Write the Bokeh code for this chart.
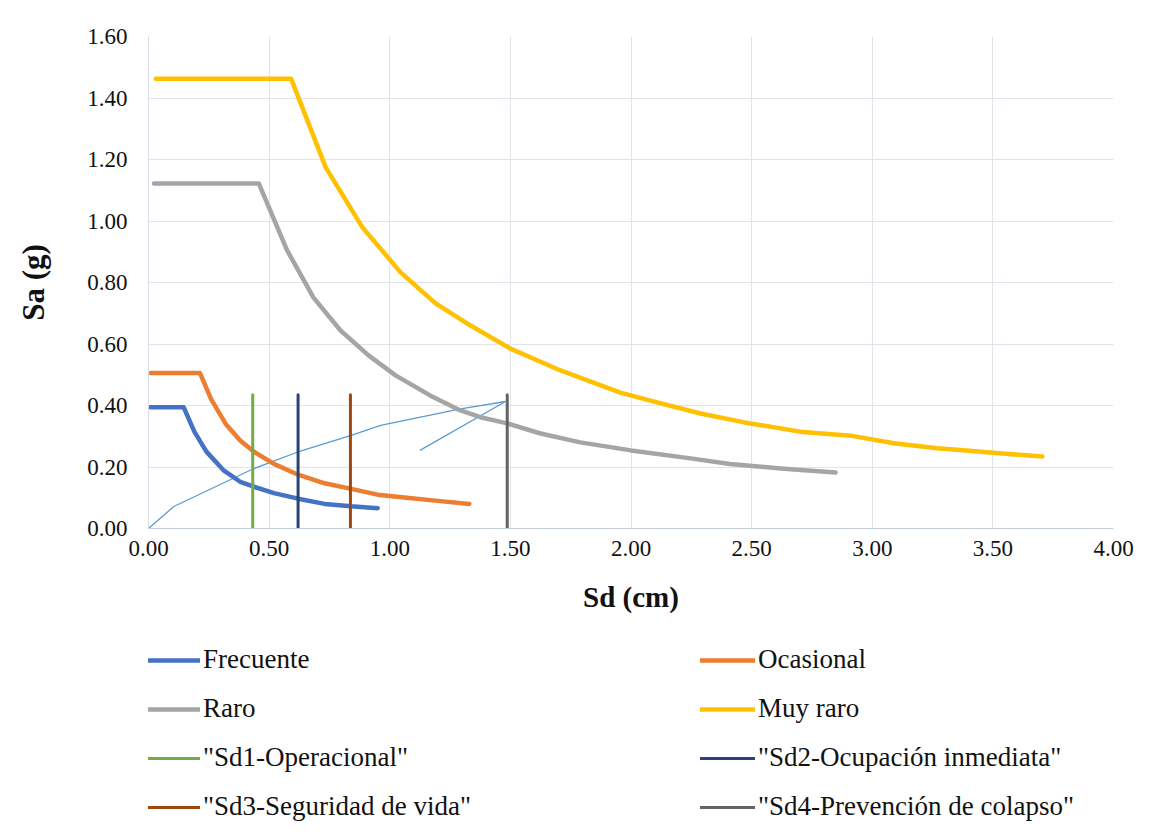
from bokeh.plotting import figure
from bokeh.models import FixedTicker, NumeralTickFormatter, Legend, LegendItem, Range1d
from bokeh.layouts import column
from bokeh.embed import file_html
from bokeh.resources import INLINE

# ---- data ----
frec_sd = [0.008, 0.146, 0.19, 0.24, 0.31, 0.38, 0.44, 0.52, 0.62, 0.73, 0.84, 0.95]
frec_sa = [0.394, 0.394, 0.315, 0.25, 0.19, 0.152, 0.135, 0.115, 0.097, 0.080, 0.072, 0.066]

ocas_sd = [0.010, 0.213, 0.26, 0.32, 0.38, 0.44, 0.52, 0.62, 0.73, 0.84, 0.95, 1.07, 1.21, 1.33]
ocas_sa = [0.506, 0.506, 0.42, 0.34, 0.286, 0.248, 0.21, 0.175, 0.147, 0.129, 0.110, 0.100, 0.089, 0.080]

raro_sd = [0.023, 0.457, 0.575, 0.684, 0.796, 0.912, 1.024, 1.169, 1.293, 1.376, 1.487,
           1.625, 1.79, 2.0, 2.247, 2.41, 2.62, 2.848]
raro_sa = [1.122, 1.122, 0.904, 0.751, 0.644, 0.563, 0.498, 0.432, 0.384, 0.362, 0.342,
           0.309, 0.280, 0.254, 0.228, 0.210, 0.195, 0.182]

muy_sd = [0.03, 0.591, 0.734, 0.886, 1.045, 1.19, 1.335, 1.5, 1.708, 1.956, 2.08, 2.288,
          2.47, 2.70, 2.91, 3.09, 3.27, 3.39, 3.50, 3.705]
muy_sa = [1.463, 1.463, 1.175, 0.98, 0.833, 0.732, 0.66, 0.585, 0.514, 0.442, 0.416, 0.374,
          0.345, 0.315, 0.302, 0.277, 0.261, 0.254, 0.246, 0.234]

cap_sd = [0.0, 0.105, 0.437, 0.616, 0.837, 0.962, 1.293, 1.48, 1.125]
cap_sa = [0.0, 0.0715, 0.195, 0.248, 0.302, 0.335, 0.389, 0.413, 0.254]

level_names = ['"Sd1-Operacional"', '"Sd2-Ocupación inmediata"', '"Sd3-Seguridad de vida"',
               '"Sd4-Prevención de colapso"']
level_sd = [0.432, 0.620, 0.837, 1.487]
level_top = 0.435

x_ticks = [0.0, 0.5, 1.0, 1.5, 2.0, 2.5, 3.0, 3.5, 4.0]
y_ticks = [0.0, 0.2, 0.4, 0.6, 0.8, 1.0, 1.2, 1.4, 1.6]

FONT = "Liberation Serif"
W = 1153
MAIN_H = 630
LEG_H = 199
NAN = float("nan")

p = figure(width=W, height=MAIN_H, output_backend="svg", toolbar_location=None,
           x_range=Range1d(0, 4), y_range=Range1d(0, 1.6),
           min_border_left=148, min_border_right=W - 1113, min_border_top=36,
           min_border_bottom=MAIN_H - 528)
p.outline_line_color = None
p.background_fill_color = "white"
p.border_fill_color = "white"

grid_col = "#E1E4EA"
p.xgrid.grid_line_color = grid_col
p.ygrid.grid_line_color = grid_col
p.xgrid.ticker = FixedTicker(ticks=x_ticks)
p.ygrid.ticker = FixedTicker(ticks=y_ticks)

for ax in (p.xaxis[0], p.yaxis[0]):
    ax.major_tick_line_color = None
    ax.minor_tick_line_color = None
    ax.major_tick_out = 0
    ax.major_tick_in = 0
    ax.minor_tick_out = 0
    ax.formatter = NumeralTickFormatter(format="0.00")
    ax.major_label_text_font = FONT
    ax.major_label_text_font_size = "23px"
    ax.major_label_text_color = "#111111"
    ax.axis_label_text_font = FONT
    ax.axis_label_text_font_style = "bold"
    ax.axis_label_text_font_size = "29px"
    ax.axis_label_text_color = "#111111"

p.xaxis[0].ticker = FixedTicker(ticks=x_ticks)
p.yaxis[0].ticker = FixedTicker(ticks=y_ticks)
p.xaxis[0].axis_line_color = "#C5CEDC"
p.yaxis[0].axis_line_color = "#D6DCE6"
p.xaxis[0].axis_label = "Sd (cm)"
p.yaxis[0].axis_label = "Sa (g)"
p.yaxis[0].axis_label_text_font_size = "31px"
p.xaxis[0].major_label_standoff = 12
p.yaxis[0].major_label_standoff = 21
p.xaxis[0].axis_label_standoff = 22
p.yaxis[0].axis_label_standoff = 33

# capacity curve (thin)
p.line(cap_sd, cap_sa, line_color="#5B9BD5", line_width=1.3)

spectra = [
    ("Frecuente", frec_sd, frec_sa, "#4472C4"),
    ("Ocasional", ocas_sd, ocas_sa, "#ED7D31"),
    ("Raro", raro_sd, raro_sa, "#A5A5A5"),
    ("Muy raro", muy_sd, muy_sa, "#FFC000"),
]
for name, xs, ys, col in spectra:
    p.line(xs, ys, line_color=col, line_width=4.5, line_cap="round", line_join="round")

level_colors = ["#70AD47", "#264478", "#9E480E", "#636363"]
for sd, col in zip(level_sd, level_colors):
    p.line([sd, sd], [0, level_top], line_color=col, line_width=3, line_cap="round")

# ---- legend panel (separate figure below the chart; its frame aligns with the chart's) ----
lf = figure(width=W, height=LEG_H, output_backend="svg", toolbar_location=None,
            x_range=Range1d(0, 1), y_range=Range1d(0, 1),
            x_axis_type=None, y_axis_type=None, min_border=0)
lf.outline_line_color = None
lf.grid.visible = False
lf.background_fill_color = "white"
lf.border_fill_color = "white"

# legend proxies: one NaN point each, so nothing is drawn in the panel itself
leg_r = {}
for name, xs, ys, col in spectra:
    leg_r[name] = lf.line([NAN], [NAN], line_color=col, line_width=4.5, line_cap="round")
for name, col in zip(level_names, level_colors):
    leg_r[name] = lf.line([NAN], [NAN], line_color=col, line_width=3, line_cap="round")

def make_legend(names, x, y):
    return Legend(items=[LegendItem(label=n, renderers=[leg_r[n]]) for n in names],
                  location=(x, y), orientation="vertical",
                  label_text_font=FONT, label_text_font_size="27px", label_text_color="#111111",
                  glyph_width=55, glyph_height=30, label_height=30, label_standoff=3,
                  spacing=18, padding=0, margin=0,
                  background_fill_alpha=0, border_line_color=None)

# frame of this panel starts at x=148 (aligned to chart frame)
leg1 = make_legend(["Frecuente", "Raro", level_names[0], level_names[2]], -3, 7)
leg2 = make_legend(["Ocasional", "Muy raro", level_names[1], level_names[3]], 552, 7)
lf.add_layout(leg1, "center")
lf.add_layout(leg2, "center")

layout = column(p, lf, spacing=0)
open("out.html", "w").write(file_html(layout, INLINE))
